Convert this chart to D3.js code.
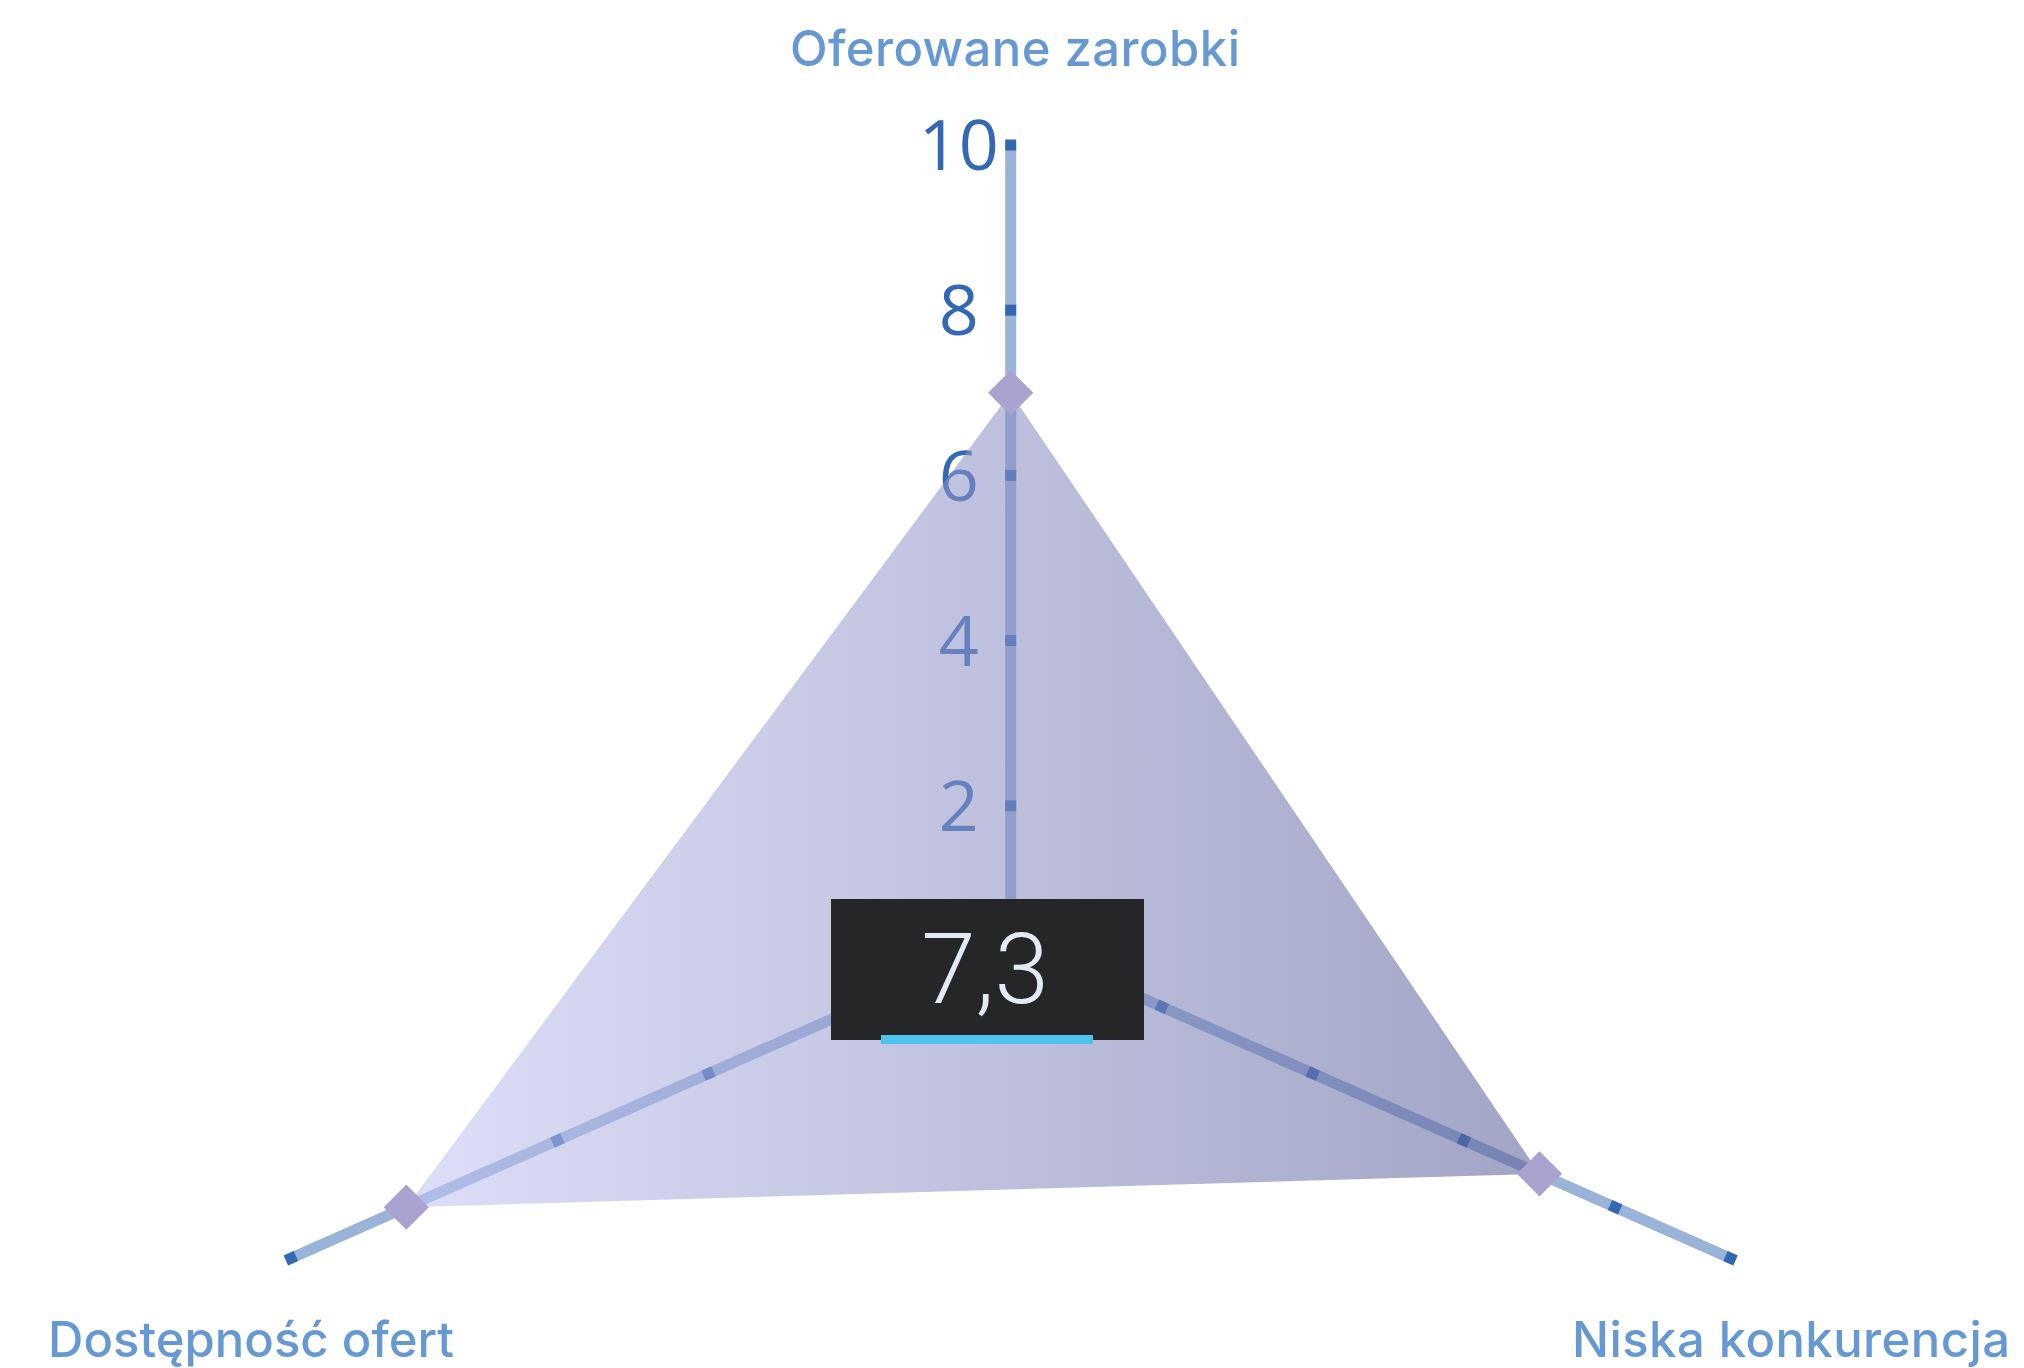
<!DOCTYPE html>
<html>
<head>
<meta charset="utf-8">
<script src="https://cdn.jsdelivr.net/npm/d3@7"></script>
<style>
  html, body { margin: 0; padding: 0; background: #ffffff; }
  svg { display: block; }
</style>
</head>
<body>
<svg id="chart" width="2024" height="1368"></svg>
<script>
// ---- data ----
const categories = ["Oferowane zarobki", "Niska konkurencja", "Dostępność ofert"];
const values = [7, 7, 8];
const tickValues = [2, 4, 6, 8, 10];
const tickLabels = ["2", "4", "6", "8", "10"];
const valueDomain = [0, 10];

// ---- layout ----
const W = 2024, H = 1368;
const cx = 1010.7, cy = 940;
const deg = Math.PI / 180;
// per-axis direction and where its zero sits along that direction
const axisAngles = [-90, 23.85, 156.15];
const axisZeroShift = [-31, 0, 0];
const axisLength = [826, 792, 792];
const axisWidth = 11;

const svg = d3.select("#chart");

const r = d3.scaleLinear().domain(valueDomain).range([0, 826]);
const fmt = d3.formatLocale({ decimal: ",", thousands: " ", grouping: [3], currency: ["", " zł"] }).format(".1f");

function pointOn(i, dist) {
  const a = axisAngles[i] * deg;
  const ox = cx + axisZeroShift[i] * Math.cos(a);
  const oy = cy + axisZeroShift[i] * Math.sin(a);
  return [ox + dist * Math.cos(a), oy + dist * Math.sin(a)];
}

// gradient for the value area
const defs = svg.append("defs");
const grad = defs.append("linearGradient").attr("id", "areaGrad")
  .attr("x1", "0%").attr("x2", "100%").attr("y1", "0%").attr("y2", "0%");
grad.append("stop").attr("offset", "0%").attr("stop-color", "#c2c6f2");
grad.append("stop").attr("offset", "100%").attr("stop-color", "#585d97");

// ---- axes ----
const axesG = svg.append("g");
categories.forEach((c, i) => {
  const p0 = pointOn(i, 0);
  const p1 = pointOn(i, axisLength[i]);
  axesG.append("line")
    .attr("x1", p0[0]).attr("y1", p0[1])
    .attr("x2", p1[0]).attr("y2", p1[1])
    .attr("stroke", "#9ab3d8").attr("stroke-width", axisWidth);

  // tick squares along the axis, plus the end cap
  const marks = tickValues.filter(v => r(v) <= axisLength[i] + 0.5).map(v => r(v));
  if (marks[marks.length - 1] < axisLength[i] - 1) marks.push(axisLength[i] - 5);
  marks.forEach(d => {
    const p = pointOn(i, d);
    axesG.append("rect")
      .attr("x", -5.5).attr("y", -5.5).attr("width", 11).attr("height", 11)
      .attr("fill", "#3568b4")
      .attr("transform", `translate(${p[0]},${p[1]}) rotate(${axisAngles[i]})`);
  });
});

// tick labels on the vertical axis
const labG = svg.append("g");
tickValues.forEach((v, k) => {
  const p = pointOn(0, r(v));
  labG.append("text")
    .attr("x", p[0] - 52).attr("y", p[1])
    .attr("dy", "0.36em")
    .attr("text-anchor", "middle")
    .attr("font-family", "'Open Sans', 'Noto Sans', sans-serif")
    .attr("font-size", 70)
    .attr("fill", "#3568b4")
    .text(tickLabels[k]);
});

// ---- value area ----
const pts = values.map((v, i) => pointOn(i, r(v)));
svg.append("path")
  .attr("d", d3.line()(pts) + "Z")
  .attr("fill", "url(#areaGrad)")
  .attr("fill-opacity", 0.56);

// diamonds at the values
svg.append("g").selectAll("rect").data(pts).join("rect")
  .attr("x", -16).attr("y", -16).attr("width", 32).attr("height", 32)
  .attr("fill", "#aba3cf")
  .attr("transform", d => `translate(${d[0]},${d[1]}) rotate(45)`);

// ---- category labels ----
const catLayout = [
  { x: 1015, y: 66, w: 450 },
  { x: 1791, y: 1357, w: 438 },
  { x: 251, y: 1357, w: 406 }
];
categories.forEach((c, i) => {
  svg.append("text")
    .attr("x", catLayout[i].x).attr("y", catLayout[i].y)
    .attr("text-anchor", "middle")
    .attr("font-family", "Inter, 'Noto Sans', sans-serif")
    .attr("font-weight", 500)
    .attr("font-size", 49)
    .attr("fill", "#6699d3")
    .attr("textLength", catLayout[i].w)
    .attr("lengthAdjust", "spacing")
    .text(c);
});

// ---- summary badge ----
const avg = d3.mean(values);
const badge = svg.append("g");
badge.append("rect")
  .attr("x", 831).attr("y", 899).attr("width", 313).attr("height", 141)
  .attr("fill", "#242628");
badge.append("text")
  .attr("x", 985).attr("y", 1003)
  .attr("text-anchor", "middle")
  .attr("font-family", "Roboto, 'Open Sans', sans-serif")
  .attr("font-weight", 300)
  .attr("font-size", 98)
  .attr("fill", "#e4e9f6")
  .text(fmt(avg));
badge.append("rect")
  .attr("x", 881).attr("y", 1035).attr("width", 212).attr("height", 9)
  .attr("fill", "#4fc3ef");
</script>
</body>
</html>
